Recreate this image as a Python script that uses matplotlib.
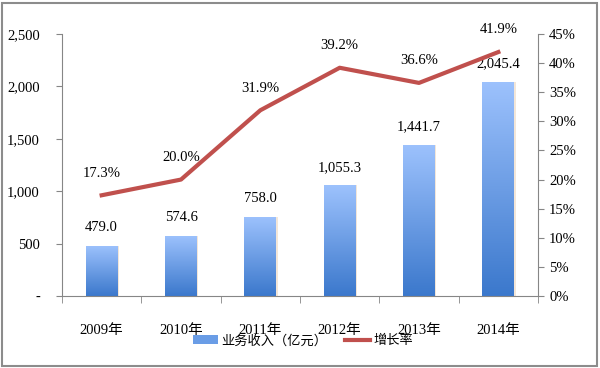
import numpy as np
import matplotlib.pyplot as plt
from matplotlib.colors import LinearSegmentedColormap
from matplotlib.patches import Rectangle
from matplotlib.ticker import FuncFormatter

years = ['2009年', '2010年', '2011年', '2012年', '2013年', '2014年']
revenue = [479.0, 574.6, 758.0, 1055.3, 1441.7, 2045.4]
growth = [17.3, 20.0, 31.9, 39.2, 36.6, 41.9]
rev_labels = ['479.0', '574.6', '758.0', '1,055.3', '1,441.7', '2,045.4']
growth_labels = ['17.3%', '20.0%', '31.9%', '39.2%', '36.6%', '41.9%']

plt.rcParams['font.family'] = ['Liberation Serif', 'Noto Sans CJK SC']
plt.rcParams['font.size'] = 10.5

fig = plt.figure(figsize=(6, 3.68), dpi=100)
ax = fig.add_axes([62/600, 1-296/368, 476/600, 262/368])
ax2 = ax.twinx()

x = np.arange(len(years))
bars = ax.bar(x, revenue, width=0.4, color='none', edgecolor='none', zorder=2)
cmap = LinearSegmentedColormap.from_list('g', ['#3B78CC', '#9DC2FD'])
grad = np.linspace(0, 1, 256).reshape(-1, 1)
for b in bars:
    x0, w, h = b.get_x(), b.get_width(), b.get_height()
    im = ax.imshow(grad, cmap=cmap, aspect='auto', origin='lower',
                   extent=[x0, x0 + w, 0, h], zorder=2)
    im.set_clip_path(b)
    ax.add_patch(Rectangle((x0 + w, 0), 0.02, h, color='#F3E6D8', zorder=1, lw=0))

ax.set_xlim(-0.5, 5.5)
ax.set_ylim(0, 2500)
ax.set_yticks(range(0, 2501, 500))
ax.yaxis.set_major_formatter(FuncFormatter(lambda v, p: '-' if v == 0 else f'{int(v):,}'))
ax.set_xticks(x)
ax.set_xticklabels(years)
ax.set_xticks(np.arange(-0.5, 6, 1), minor=True)
ax.tick_params(axis='x', which='major', length=0, pad=20)
ax.tick_params(axis='x', which='minor', length=5, color='#868686', direction='out')
ax.tick_params(axis='y', length=4, color='#868686', pad=12)

for s in ['top', 'right']:
    ax.spines[s].set_visible(False)
for s in ['left', 'bottom']:
    ax.spines[s].set_color('#868686')

for xi, v, t in zip(x, revenue, rev_labels):
    ax.text(xi, v + 170, t, ha='center', va='center', fontsize=10.5)

line, = ax2.plot(x, growth, color='#C0504D', lw=3, zorder=3)
ax2.set_ylim(0, 45)
ax2.set_yticks(range(0, 46, 5))
ax2.yaxis.set_major_formatter(FuncFormatter(lambda v, p: f'{int(v)}%'))
ax2.tick_params(axis='y', length=4, color='#868686', pad=4)
for s in ['top', 'left', 'bottom']:
    ax2.spines[s].set_visible(False)
ax2.spines['right'].set_color('#868686')

for xi, v, t in zip(x, growth, growth_labels):
    ax2.text(xi, v + 3.8, t, ha='center', va='center', fontsize=10.5)

legend_bar = Rectangle((0, 0), 1, 1, facecolor='#6A9DE6', edgecolor='none')
fig.legend([legend_bar, line], ['业务收入（亿元）', '增长率'], loc='center',
           bbox_to_anchor=(303/600, 1-341/368), ncol=2, frameon=False,
           handlelength=1.9, handletextpad=0.25, columnspacing=1.4, fontsize=9.5)

fig.add_artist(Rectangle((2/600, 2/368), 595/600, 363/368, transform=fig.transFigure,
                         fill=False, edgecolor='#8C8C8C', lw=1.5))

fig.savefig('out.png', dpi=100)
